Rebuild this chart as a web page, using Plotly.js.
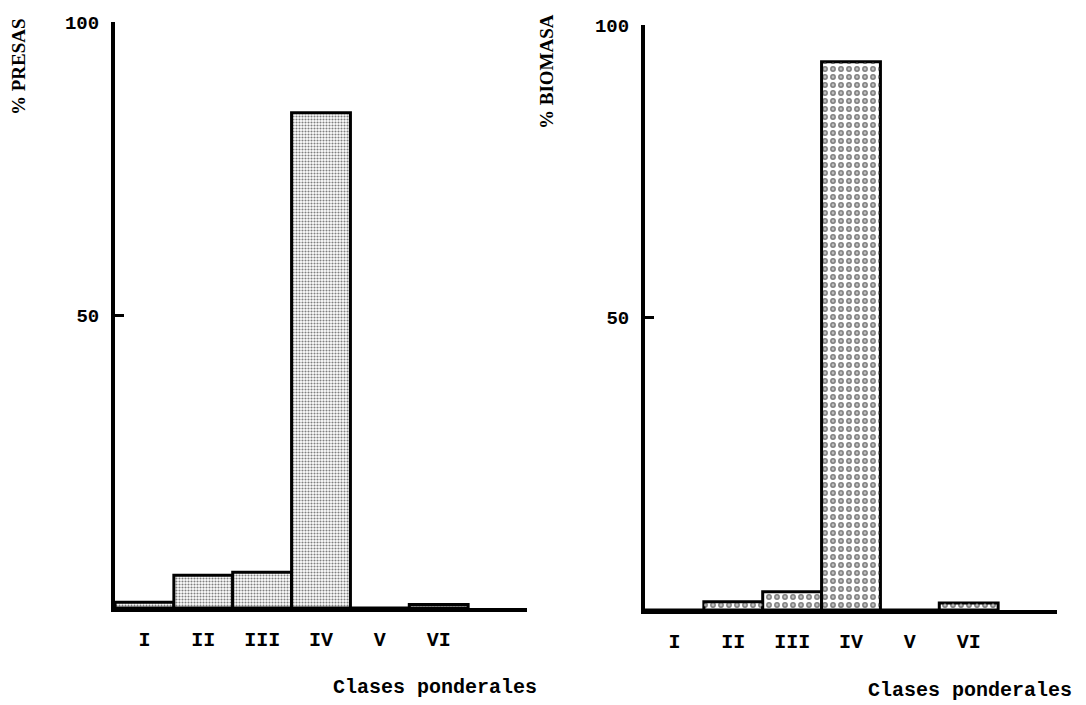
<!DOCTYPE html>
<html>
<head>
<meta charset="utf-8">
<script src="https://cdn.plot.ly/plotly-3.0.1.min.js"></script>
<style>
  html, body { margin: 0; padding: 0; background: #fff; }
  #chart { width: 1086px; height: 705px; }
</style>
</head>
<body>
<div id="chart"></div>
<script>
// Data
const categories = ["I", "II", "III", "IV", "V", "VI"];
const presas = [1.0, 5.6, 6.1, 84.5, 0, 0.6];     // % PRESAS
const biomasa = [0, 1.4, 3.1, 93.7, 0, 1.2];      // % BIOMASA
const yTickVals = [50, 100];
const yTickText = ["50", "100"];

const MONO = "Liberation Mono, Courier New, monospace";
const SERIF = "Liberation Serif, Times New Roman, serif";

const traces = [
  {
    type: "bar", x: categories, y: presas, xaxis: "x", yaxis: "y",
    marker: {
      color: "#ffffff",
      line: { color: "#000", width: 3 },
      pattern: { shape: ".", fgcolor: "#000", bgcolor: "#fff", size: 3, solidity: 0.4, fillmode: "overlay" }
    },
    hoverinfo: "x+y", showlegend: false
  },
  {
    type: "bar", x: categories, y: biomasa, xaxis: "x2", yaxis: "y2",
    marker: {
      color: "#ffffff",
      line: { color: "#000", width: 3 },
      pattern: { shape: ".", fgcolor: "#000", bgcolor: "#fff", size: 8, solidity: 0.42, fillmode: "overlay" }
    },
    hoverinfo: "x+y", showlegend: false
  },
  {
    type: "bar", x: categories, y: biomasa, xaxis: "x2", yaxis: "y2",
    marker: {
      color: "rgba(0,0,0,0)",
      line: { width: 0 },
      pattern: { shape: ".", fgcolor: "#fff", size: 8, solidity: 0.1, fillmode: "overlay" }
    },
    hoverinfo: "skip", showlegend: false
  }
];

const xAxisBase = {
  type: "category",
  range: [-0.5, 6.5],
  showline: true, linecolor: "#000", linewidth: 4,
  showgrid: false, zeroline: false,
  ticks: "outside", ticklen: 10, tickcolor: "rgba(0,0,0,0)",
  tickfont: { family: MONO, size: 20, color: "#000", weight: "bold" },
  fixedrange: true
};
const yAxisBase = {
  range: [0, 100],
  showline: true, linecolor: "#000", linewidth: 4,
  showgrid: false, zeroline: false,
  tickvals: yTickVals, ticktext: yTickText,
  ticks: "inside", ticklen: 9, tickwidth: 3, tickcolor: "#000",
  ticklabelstandoff: 8,
  tickfont: { family: MONO, size: 19, color: "#000", weight: "bold" },
  fixedrange: true
};

const layout = {
  width: 1086, height: 705,
  margin: { l: 0, r: 0, t: 0, b: 0 },
  paper_bgcolor: "#fff", plot_bgcolor: "rgba(0,0,0,0)",
  barmode: "overlay", bargap: 0,
  showlegend: false,
  xaxis: Object.assign({}, xAxisBase, { domain: [115/1086, 527/1086], anchor: "y" }),
  yaxis: Object.assign({}, yAxisBase, { domain: [1 - 608/705, 1 - 22/705], anchor: "x" }),
  xaxis2: Object.assign({}, xAxisBase, { domain: [645/1086, 1057/1086], anchor: "y2" }),
  yaxis2: Object.assign({}, yAxisBase, { domain: [1 - 610/705, 1 - 25/705], anchor: "x2" }),
  annotations: [
    { text: "% PRESAS", xref: "paper", yref: "paper", x: 18/1086, y: 1 - 67/705,
      xanchor: "center", yanchor: "middle",
      textangle: -90, showarrow: false, font: { family: SERIF, size: 19, color: "#000", weight: "bold" } },
    { text: "% BIOMASA", xref: "paper", yref: "paper", x: 546/1086, y: 1 - 72/705,
      xanchor: "center", yanchor: "middle",
      textangle: -90, showarrow: false, font: { family: SERIF, size: 19, color: "#000", weight: "bold" } },
    { text: "Clases ponderales", xref: "paper", yref: "paper", x: 435/1086, y: 1 - 687/705,
      xanchor: "center", yanchor: "middle",
      showarrow: false, font: { family: MONO, size: 20, color: "#000", weight: "bold" } },
    { text: "Clases ponderales", xref: "paper", yref: "paper", x: 970/1086, y: 1 - 690/705,
      xanchor: "center", yanchor: "middle",
      showarrow: false, font: { family: MONO, size: 20, color: "#000", weight: "bold" } }
  ]
};

Plotly.newPlot("chart", traces, layout, { displayModeBar: false, staticPlot: true });
</script>
</body>
</html>
